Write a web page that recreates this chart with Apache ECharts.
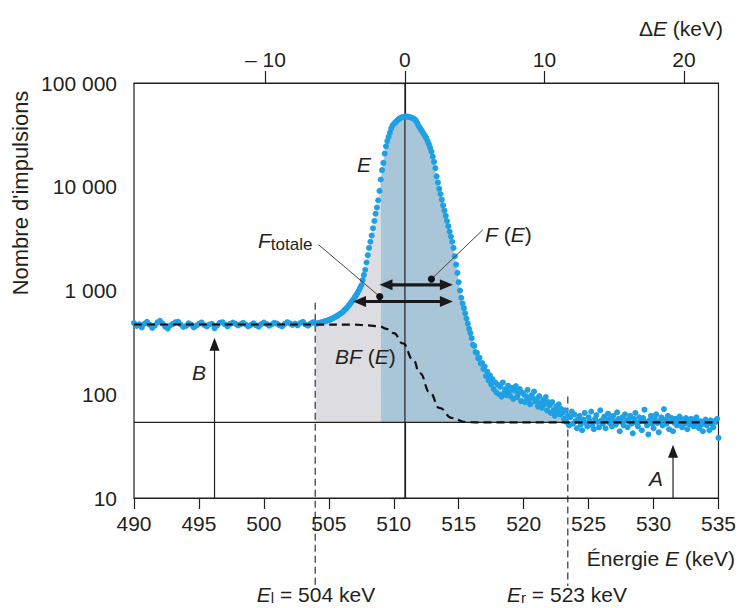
<!DOCTYPE html>
<html><head><meta charset="utf-8">
<script src="https://cdn.jsdelivr.net/npm/echarts@6/dist/echarts.min.js"></script>
<style>html,body{margin:0;padding:0;background:#fff}#c{width:739px;height:608px}</style>
</head><body><div id="c"></div>
<script>
// ---------------- data ----------------
const energyTicks = [490, 495, 500, 505, 510, 515, 520, 525, 530, 535];
const deltaTicks = [-10, 0, 10, 20];
const countTicks = [10, 100, 1000, 10000, 100000];

// background part, 490.0 .. 503.8 keV, every 0.2 keV
const bgStart = 490.0, bgStep = 0.2;
const bgCounts = [485,455,472,440,478,500,468,436,458,492,
  510,480,448,430,462,476,495,500,470,445,
  455,482,470,440,458,478,492,465,450,470,
  478,432,460,488,495,472,450,476,490,480,
  460,472,488,470,452,466,482,462,448,475,
  490,476,458,470,488,480,462,452,476,495,
  482,466,480,462,486,500,470,458,480,495];

// peak part, 504.0 .. 517.9 keV, every 0.1 keV
const peakStart = 504.0, peakStep = 0.1;
const peakCounts = [479,482,485,489,492,495,500,505,509,514,
  519,525,532,540,548,556,566,577,587,598,
  610,627,646,664,685,708,735,764,794,828,
  863,902,944,995,1052,1122,1259,1413,1585,1862,
  2188,2570,2951,3388,3981,4677,5495,6310,7413,9120,
  11749,14454,16982,20893,24547,27542,30200,33113,36308,38905,
  40272,41495,42658,43853,45082,45920,46559,46989,47315,47424,
  47424,47315,46989,46559,46132,45499,44668,43451,41210,38905,
  37154,35481,33884,32359,30903,29376,27542,25704,23714,21827,
  19498,17378,15136,12589,10965,9550,8511,7499,6607,5888,
  5248,4677,4169,3698,3311,2951,2570,2138,1778,1479,
  1202,1000,851,750,676,603,537,479,427,389,
  347,300,292,255,250,222,225,198,200,176,
  185,150,165,136,152,124,140,112,130,104];

// tail part, 518.0 .. 535.0 keV, every 0.1 keV
const tailStart = 518.0, tailStep = 0.1;
const tailCounts = [124,100,118,95,130,104,112,98,121,108,
  96,115,90,108,120,94,102,112,86,104,
  100,84,95,110,88,80,98,92,106,85,
  90,76,96,82,74,88,80,94,70,84,
  78,66,84,70,62,76,68,80,64,72,
  66,58,70,54,62,50,60,68,52,64,
  55,47,58,62,51,45,57,66,53,49,
  60,55,68,50,46,58,63,54,48,70,
  56,52,61,47,57,65,53,59,49,62,
  55,51,67,58,44,54,60,50,64,56,
  48,57,62,52,42,58,66,53,49,60,
  55,45,59,71,54,50,41,56,62,52,
  47,58,64,53,43,55,60,50,72,57,
  52,62,46,55,59,44,53,58,50,56,
  61,54,48,57,52,59,46,55,51,58,
  53,49,56,60,52,47,55,51,44,54,
  57,50,53,45,56,52,48,55,54,58,
  38];

// background function BF(E)
const bfEnergy = [490, 504, 507, 508, 508.9, 509.5, 510, 510.7, 511.5, 512, 512.8, 513.5, 514.5, 515.5, 516.5, 535];
const bfCounts = [470, 470, 468, 462, 450, 425, 388, 309, 215, 160, 103, 74, 59, 54, 53.5, 53.5];

const baseLevel = 53.5;          // level A (horizontal line)
const greyRange = [504, 509];    // BF(E) area under the peak
const blueRange = [509, 523.2];  // F(E) area
const deltaRange = [-19.42, 22.48];

// ---------------- annotation anchors (data coordinates) ----------------
const ann = {
  zeroE: 510.86,
  El: 503.95, ElTop: 760,
  Er: 523.4, ErTop: 95,
  upper: {e1: 508.9, e2: 514.55, v: 1135},
  lower: {e1: 506.86, e2: 514.55, v: 783},
  fTotDot: [508.92, 875], fTotEnd: [504.22, 2754],
  fEDot: [512.9, 1288], fEEnd: [516.86, 3846],
  bTip: [496.2, 350], aTip: [531.5, 32.6]
};

// ---------------- chart ----------------
const FONT = '"Liberation Sans", Arial, Helvetica, sans-serif';
const INK = '#231f20';
const chart = echarts.init(document.getElementById('c'), null, {renderer: 'svg', width: 739, height: 608});

function seq(start, step, counts) {
  return counts.map((v, i) => [Math.round((start + i * step) * 10) / 10, v]);
}
const points = [].concat(seq(bgStart, bgStep, bgCounts), seq(peakStart, peakStep, peakCounts), seq(tailStart, tailStep, tailCounts));
const greyPts = points.filter(p => p[0] >= greyRange[0] && p[0] <= greyRange[1]);
const bluePts = points.filter(p => p[0] >= blueRange[0] && p[0] <= blueRange[1]);
const bfPts = bfEnergy.map((e, i) => [e, bfCounts[i]]);

const axisLine = {lineStyle: {color: INK, width: 1.2}};
const labelBase = {color: INK, fontSize: 21, fontFamily: FONT};

chart.setOption({
  animation: false,
  grid: {left: 134, right: 20, top: 83, bottom: 110, show: true, borderColor: INK, borderWidth: 1.2, backgroundColor: 'transparent'},
  xAxis: [
    {type: 'value', min: 490, max: 535, interval: 5, position: 'bottom',
     axisLine: axisLine, axisTick: {length: 11, lineStyle: {color: INK, width: 1.2}},
     axisLabel: Object.assign({margin: 15}, labelBase), splitLine: {show: false}},
    {type: 'value', min: deltaRange[0], max: deltaRange[1], position: 'top',
     axisLine: axisLine,
     axisTick: {length: 12, customValues: deltaTicks, lineStyle: {color: INK, width: 1.2}},
     axisLabel: Object.assign({margin: 13, customValues: deltaTicks,
       formatter: v => v < 0 ? '\u2013 ' + Math.abs(v) : String(v)}, labelBase),
     splitLine: {show: false}}
  ],
  yAxis: [{type: 'log', logBase: 10, min: 10, max: 100000,
    axisLine: axisLine, axisTick: {length: 15, lineStyle: {color: INK, width: 1.2}},
    axisLabel: Object.assign({margin: 17,
      formatter: v => String(Math.round(v)).replace(/\B(?=(\d{3})+(?!\d))/g, ' ')}, labelBase),
    splitLine: {show: false}, minorTick: {show: false}}],
  series: [
    {type: 'line', data: greyPts, showSymbol: false, symbol: 'none', silent: true, z: 1,
     lineStyle: {width: 0, opacity: 0}, areaStyle: {color: '#dcdce1', opacity: 1, origin: baseLevel}},
    {type: 'line', data: bluePts, showSymbol: false, symbol: 'none', silent: true, z: 1,
     lineStyle: {width: 0, opacity: 0}, areaStyle: {color: '#a9c6d9', opacity: 1, origin: baseLevel}},
    {type: 'scatter', data: points, symbolSize: 6, z: 5, silent: true,
     itemStyle: {color: '#1fa0e4', opacity: 1}},
    {type: 'line', data: bfPts, smooth: 0.5, smoothMonotone: 'x', symbol: 'none', z: 6, silent: true,
     lineStyle: {color: '#111', width: 2.2, type: [8, 5]}}
  ]
});

// ---------------- annotations ----------------
const P = (e, v) => chart.convertToPixel({seriesIndex: 2}, [e, v]);
const G = [];
function line(a, b, w, color, dash, z) {
  G.push({type: 'line', z: z || 3, silent: true,
    shape: {x1: a[0], y1: a[1], x2: b[0], y2: b[1]},
    style: {stroke: color || INK, lineWidth: w, lineDash: dash || null}});
}
function head(tip, dx, dy, len, hw) {
  const px = -dy, py = dx;
  const bx = tip[0] - dx * len, by = tip[1] - dy * len;
  G.push({type: 'polygon', z: 8, silent: true,
    shape: {points: [tip, [bx + px * hw, by + py * hw], [bx - px * hw, by - py * hw]]},
    style: {fill: '#1a1a1a'}});
}
function text(x, y, str, opts) {
  G.push({type: 'text', z: 9, silent: true, x: x, y: y, rotation: (opts && opts.rotation) || 0,
    style: Object.assign({text: str, fill: INK, fontSize: 21, fontFamily: FONT,
      align: 'center', verticalAlign: 'middle'}, opts && opts.style)});
}

const yTop = P(490, 100000)[1], yBot = P(490, 10)[1];
// ΔE = 0 line and level A
line([P(ann.zeroE, 10)[0], yTop], [P(ann.zeroE, 10)[0], yBot], 1.2, INK, null, 4);
line(P(490, baseLevel), P(535, baseLevel), 1.2, INK, null, 4);
// E_l, E_r dashed lines (extend below the axis)
line(P(ann.El, ann.ElTop), [P(ann.El, 10)[0], yBot + 88], 1.1, INK, [7, 4], 4);
line(P(ann.Er, ann.ErTop), [P(ann.Er, 10)[0], yBot + 88], 1.1, INK, [7, 4], 4);
// double arrows
[ann.upper, ann.lower].forEach(a => {
  const p1 = P(a.e1, a.v), p2 = P(a.e2, a.v);
  line([p1[0] + 10, p1[1]], [p2[0] - 10, p2[1]], 3.2, '#1a1a1a', null, 8);
  head(p1, -1, 0, 13, 5.5);
  head(p2, 1, 0, 13, 5.5);
});
// leader lines with dots
[[ann.fTotEnd, ann.fTotDot], [ann.fEEnd, ann.fEDot]].forEach(pair => {
  const a = P(pair[0][0], pair[0][1]), b = P(pair[1][0], pair[1][1]);
  line(a, b, 1, '#444', null, 8);
  G.push({type: 'circle', z: 9, silent: true, shape: {cx: b[0], cy: b[1], r: 3.6}, style: {fill: '#111'}});
});
// B and A arrows
[ann.bTip, ann.aTip].forEach(t => {
  const tip = P(t[0], t[1]);
  line([tip[0], yBot], [tip[0], tip[1] + 10], 1.2, INK, null, 8);
  head(tip, 0, -1, 13, 5);
});

// texts
const it = {fontStyle: 'italic', fontSize: 21, fontFamily: FONT, fill: INK};
const rm = {fontSize: 21, fontFamily: FONT, fill: INK};
text(364, 164, 'E', {style: {fontStyle: 'italic'}});
text(199, 372, 'B', {style: {fontStyle: 'italic'}});
text(656, 478, 'A', {style: {fontStyle: 'italic'}});
text(258, 240, '{i|F}{s|totale}', {style: {align: 'left',
  rich: {i: Object.assign({lineHeight: 26, verticalAlign: 'middle'}, it),
         s: {fontSize: 17, fontFamily: FONT, fill: INK, lineHeight: 26, verticalAlign: 'bottom'}}}});
text(485, 234, '{i|F} ({i|E})', {style: {align: 'left', rich: {i: it}}});
text(335, 356, '{i|BF} ({i|E})', {style: {align: 'left', rich: {i: it}}});
text(735, 558, 'Énergie {i|E} (keV)', {style: {align: 'right', rich: {i: it}}});
text(723, 28, 'Δ{i|E} (keV)', {style: {align: 'right', rich: {i: it}}});
const subRich = {i: Object.assign({lineHeight: 22, verticalAlign: 'middle'}, it),
  n: Object.assign({lineHeight: 22, verticalAlign: 'middle'}, rm),
  s: {fontSize: 15, fontFamily: FONT, fill: INK, lineHeight: 22, verticalAlign: 'bottom'}};
text(316, 594, '{i|E}{s|l}{n| = 504 keV}', {style: {rich: subRich}});
text(567, 594, '{i|E}{s|r}{n| = 523 keV}', {style: {rich: subRich}});
text(20, 193, "Nombre d'impulsions", {rotation: Math.PI / 2, style: {fontSize: 22}});

chart.setOption({graphic: {elements: G}});
</script>
</body></html>
